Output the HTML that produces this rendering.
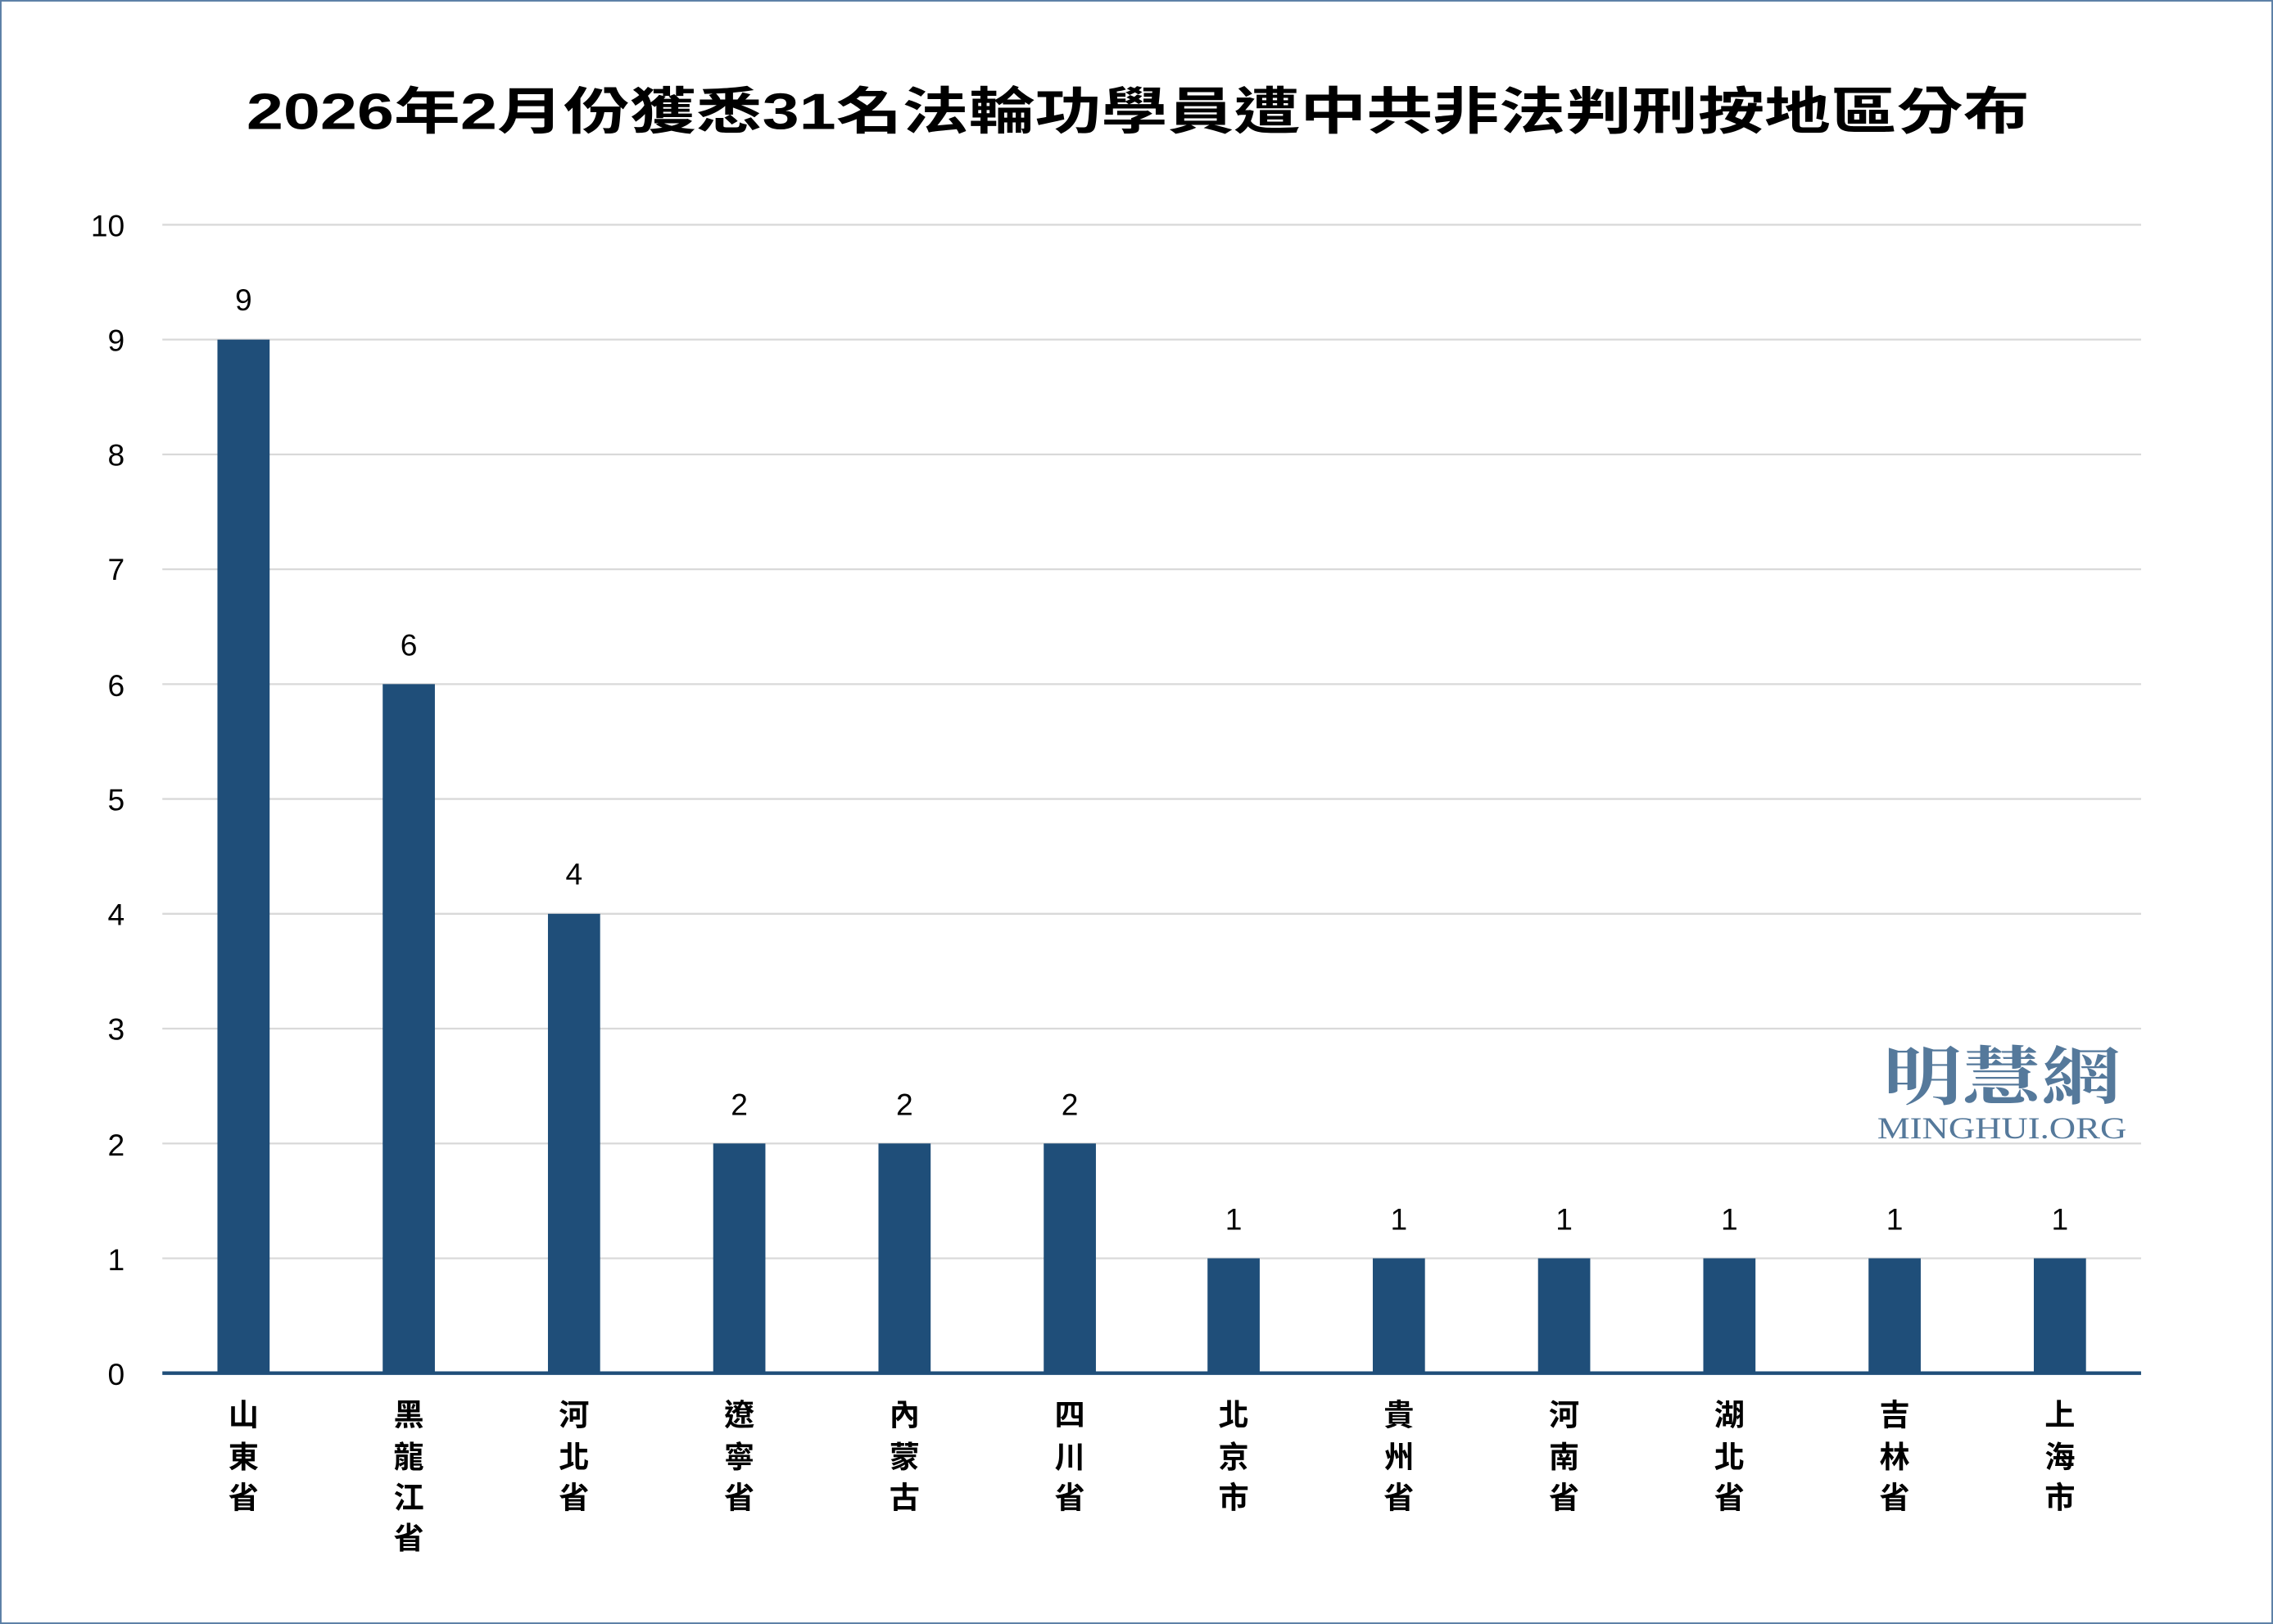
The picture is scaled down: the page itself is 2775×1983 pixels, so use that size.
<!DOCTYPE html>
<html><head><meta charset="utf-8"><style>html,body{margin:0;padding:0;background:#fff}svg{display:block}</style></head>
<body>
<svg width="2775" height="1983" viewBox="0 0 1568 1120" preserveAspectRatio="none" xmlns="http://www.w3.org/2000/svg">
<rect x="0.5" y="0.5" width="1567" height="1119" fill="#fff" stroke="#5b7fa6" stroke-width="1.2"/>
<text x="785" y="89" text-anchor="middle" font-family="'Liberation Sans','Noto Sans CJK TC',sans-serif" font-weight="bold" font-size="35" fill="#000" textLength="1230" lengthAdjust="spacingAndGlyphs">2026年2月份獲悉31名法輪功學員遭中共非法判刑按地區分布</text>
<g stroke="#d9d9d9" stroke-width="1.3">
<line x1="112" x2="1477" y1="155" y2="155"/><line x1="112" x2="1477" y1="234.2" y2="234.2"/><line x1="112" x2="1477" y1="313.4" y2="313.4"/><line x1="112" x2="1477" y1="392.6" y2="392.6"/><line x1="112" x2="1477" y1="471.8" y2="471.8"/><line x1="112" x2="1477" y1="551" y2="551"/><line x1="112" x2="1477" y1="630.2" y2="630.2"/><line x1="112" x2="1477" y1="709.4" y2="709.4"/><line x1="112" x2="1477" y1="788.6" y2="788.6"/><line x1="112" x2="1477" y1="867.8" y2="867.8"/>
</g>
<g font-family="'Liberation Sans',sans-serif" font-size="21" fill="#000" text-anchor="end">
<text x="86" y="163">10</text><text x="86" y="242">9</text><text x="86" y="321">8</text><text x="86" y="400">7</text><text x="86" y="480">6</text><text x="86" y="559">5</text><text x="86" y="638">4</text><text x="86" y="717">3</text><text x="86" y="797">2</text><text x="86" y="876">1</text><text x="86" y="955">0</text>
</g>
<g fill="#1f4e79">
<rect x="150" y="234.2" width="36" height="712.8"/><rect x="264" y="471.8" width="36" height="475.2"/><rect x="378" y="630.2" width="36" height="316.8"/><rect x="492" y="788.6" width="36" height="158.4"/><rect x="606" y="788.6" width="36" height="158.4"/><rect x="720" y="788.6" width="36" height="158.4"/><rect x="833" y="867.8" width="36" height="79.2"/><rect x="947" y="867.8" width="36" height="79.2"/><rect x="1061" y="867.8" width="36" height="79.2"/><rect x="1175" y="867.8" width="36" height="79.2"/><rect x="1289" y="867.8" width="36" height="79.2"/><rect x="1403" y="867.8" width="36" height="79.2"/>
</g>
<line x1="112" x2="1477" y1="947" y2="947" stroke="#1f4e79" stroke-width="2.5"/>
<g font-family="'Liberation Sans',sans-serif" font-size="21" fill="#000" text-anchor="middle">
<text x="168" y="214">9</text><text x="282" y="452">6</text><text x="396" y="610">4</text><text x="510" y="769">2</text><text x="624" y="769">2</text><text x="738" y="769">2</text><text x="851" y="848">1</text><text x="965" y="848">1</text><text x="1079" y="848">1</text><text x="1193" y="848">1</text><text x="1307" y="848">1</text><text x="1421" y="848">1</text>
</g>
<g font-family="'Noto Sans CJK TC',sans-serif" font-weight="bold" font-size="21" fill="#000" text-anchor="middle">
<text x="168" y="983">山</text><text x="168" y="1012">東</text><text x="168" y="1040">省</text>
<text x="282" y="983">黑</text><text x="282" y="1012">龍</text><text x="282" y="1040">江</text><text x="282" y="1068">省</text>
<text x="396" y="983">河</text><text x="396" y="1012">北</text><text x="396" y="1040">省</text>
<text x="510" y="983">遼</text><text x="510" y="1012">寧</text><text x="510" y="1040">省</text>
<text x="624" y="983">內</text><text x="624" y="1012">蒙</text><text x="624" y="1040">古</text>
<text x="738" y="983">四</text><text x="738" y="1012">川</text><text x="738" y="1040">省</text>
<text x="851" y="983">北</text><text x="851" y="1012">京</text><text x="851" y="1040">市</text>
<text x="965" y="983">貴</text><text x="965" y="1012">州</text><text x="965" y="1040">省</text>
<text x="1079" y="983">河</text><text x="1079" y="1012">南</text><text x="1079" y="1040">省</text>
<text x="1193" y="983">湖</text><text x="1193" y="1012">北</text><text x="1193" y="1040">省</text>
<text x="1307" y="983">吉</text><text x="1307" y="1012">林</text><text x="1307" y="1040">省</text>
<text x="1421" y="983">上</text><text x="1421" y="1012">海</text><text x="1421" y="1040">市</text>
</g>
<text x="1381" y="758" text-anchor="middle" font-family="'Noto Serif CJK SC','Noto Sans CJK TC',serif" font-weight="bold" font-size="44" fill="#55799b" textLength="164" lengthAdjust="spacingAndGlyphs">明慧網</text>
<text x="1381" y="785" text-anchor="middle" font-family="'Liberation Serif',serif" font-size="21" fill="#55799b" textLength="172" lengthAdjust="spacingAndGlyphs">MINGHUI.ORG</text>
</svg>
</body></html>
